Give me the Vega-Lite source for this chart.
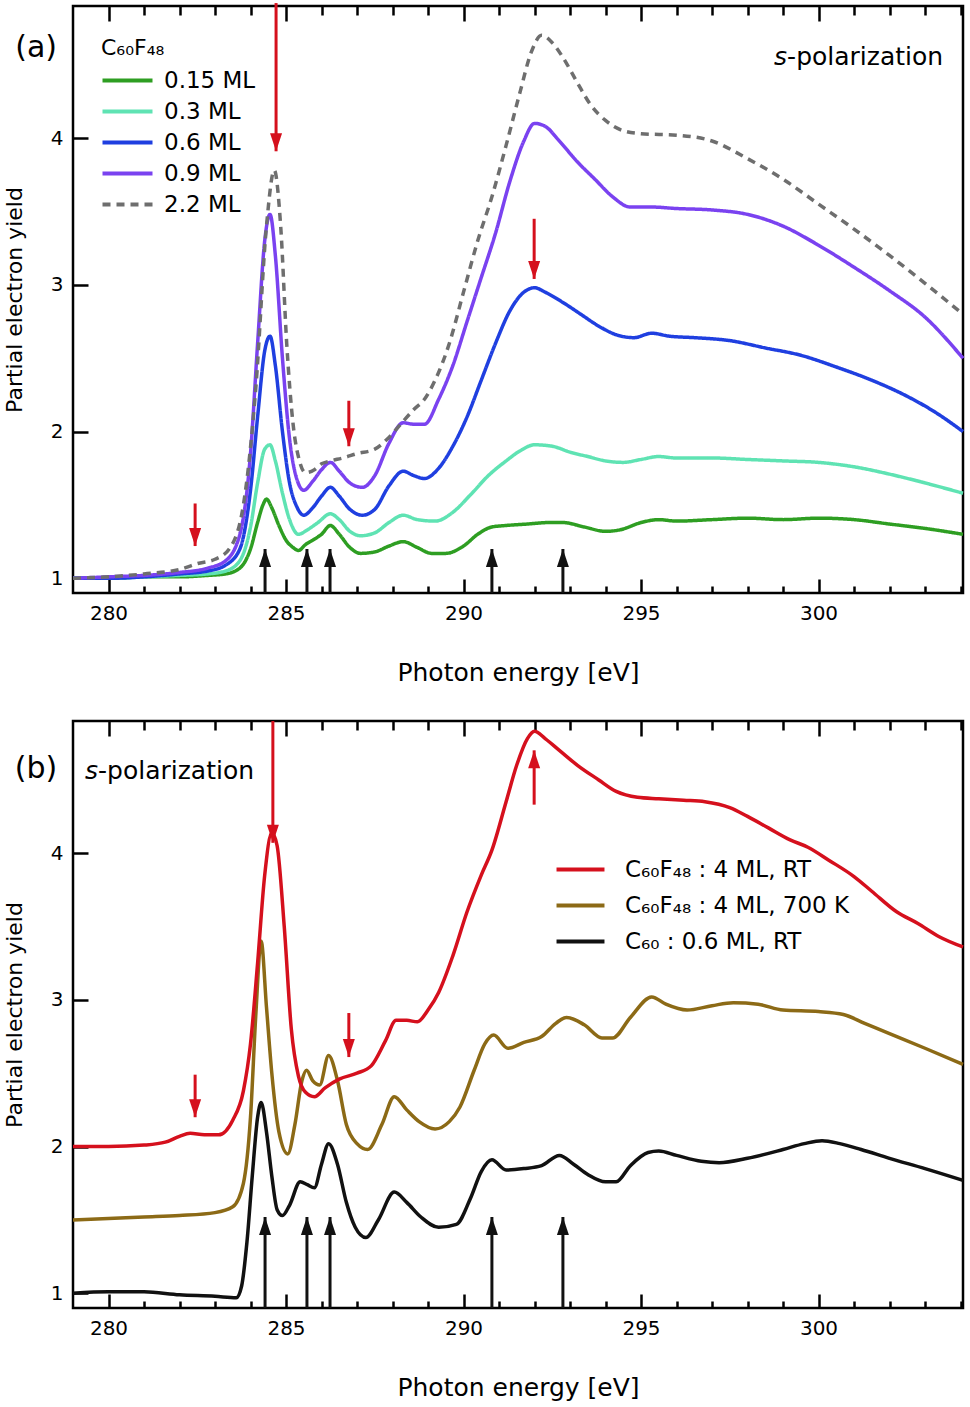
{
"$schema": "https://vega.github.io/schema/vega-lite/v6.json",
"background": "white",
"padding": {"left": 2, "top": 0, "right": 3, "bottom": 2},
"spacing": 31,
"resolve": {"scale": {"color": "independent", "strokeDash": "independent", "shape": "independent"}, "legend": {"color": "independent", "strokeDash": "independent"}},
"config": {
  "view": {"stroke": "black", "strokeWidth": 2.5},
  "font": "DejaVu Sans",
  "axis": {"domain": false, "grid": false, "tickColor": "black", "tickWidth": 2.5, "labelColor": "black", "titleColor": "black", "titleFontWeight": "normal", "labelFont": "DejaVu Sans", "titleFont": "DejaVu Sans"},
  "legend": {"labelColor": "black", "titleColor": "black", "labelFont": "DejaVu Sans", "titleFont": "DejaVu Sans", "labelLimit": 500},
  "text": {"color": "black", "font": "DejaVu Sans"}
},
"datasets": {
"a": [
{"s":"0.15 ML","e":279,"y":1.0},{"s":"0.15 ML","e":280,"y":1.0},{"s":"0.15 ML","e":281,"y":1.01},{"s":"0.15 ML","e":282,"y":1.01},{"s":"0.15 ML","e":282.8,"y":1.02},{"s":"0.15 ML","e":283.3,"y":1.03},{"s":"0.15 ML","e":283.7,"y":1.07},{"s":"0.15 ML","e":284.0,"y":1.2},{"s":"0.15 ML","e":284.2,"y":1.38},{"s":"0.15 ML","e":284.35,"y":1.5},{"s":"0.15 ML","e":284.45,"y":1.54},{"s":"0.15 ML","e":284.6,"y":1.48},{"s":"0.15 ML","e":284.8,"y":1.36},{"s":"0.15 ML","e":285.0,"y":1.26},{"s":"0.15 ML","e":285.2,"y":1.21},{"s":"0.15 ML","e":285.35,"y":1.19},{"s":"0.15 ML","e":285.55,"y":1.23},{"s":"0.15 ML","e":285.75,"y":1.26},{"s":"0.15 ML","e":286.0,"y":1.3},{"s":"0.15 ML","e":286.25,"y":1.36},{"s":"0.15 ML","e":286.5,"y":1.3},{"s":"0.15 ML","e":286.8,"y":1.21},{"s":"0.15 ML","e":287.1,"y":1.17},{"s":"0.15 ML","e":287.5,"y":1.18},{"s":"0.15 ML","e":287.9,"y":1.22},{"s":"0.15 ML","e":288.3,"y":1.25},{"s":"0.15 ML","e":288.7,"y":1.21},{"s":"0.15 ML","e":289.1,"y":1.17},{"s":"0.15 ML","e":289.5,"y":1.17},{"s":"0.15 ML","e":290.0,"y":1.22},{"s":"0.15 ML","e":290.4,"y":1.3},{"s":"0.15 ML","e":290.8,"y":1.35},{"s":"0.15 ML","e":291.2,"y":1.36},{"s":"0.15 ML","e":291.8,"y":1.37},{"s":"0.15 ML","e":292.4,"y":1.38},{"s":"0.15 ML","e":292.8,"y":1.38},{"s":"0.15 ML","e":293.4,"y":1.35},{"s":"0.15 ML","e":294.0,"y":1.32},{"s":"0.15 ML","e":294.4,"y":1.33},{"s":"0.15 ML","e":295.0,"y":1.38},{"s":"0.15 ML","e":295.5,"y":1.4},{"s":"0.15 ML","e":296.0,"y":1.39},{"s":"0.15 ML","e":297,"y":1.4},{"s":"0.15 ML","e":298,"y":1.41},{"s":"0.15 ML","e":299,"y":1.4},{"s":"0.15 ML","e":300,"y":1.41},{"s":"0.15 ML","e":301,"y":1.4},{"s":"0.15 ML","e":302,"y":1.37},{"s":"0.15 ML","e":303,"y":1.34},{"s":"0.15 ML","e":304.07,"y":1.3},
{"s":"0.3 ML","e":279,"y":1.0},{"s":"0.3 ML","e":280,"y":1.0},{"s":"0.3 ML","e":281,"y":1.01},{"s":"0.3 ML","e":282,"y":1.02},{"s":"0.3 ML","e":282.8,"y":1.03},{"s":"0.3 ML","e":283.3,"y":1.05},{"s":"0.3 ML","e":283.7,"y":1.12},{"s":"0.3 ML","e":284.0,"y":1.35},{"s":"0.3 ML","e":284.2,"y":1.65},{"s":"0.3 ML","e":284.4,"y":1.88},{"s":"0.3 ML","e":284.55,"y":1.91},{"s":"0.3 ML","e":284.7,"y":1.8},{"s":"0.3 ML","e":284.9,"y":1.58},{"s":"0.3 ML","e":285.1,"y":1.4},{"s":"0.3 ML","e":285.35,"y":1.3},{"s":"0.3 ML","e":285.6,"y":1.33},{"s":"0.3 ML","e":285.9,"y":1.38},{"s":"0.3 ML","e":286.25,"y":1.44},{"s":"0.3 ML","e":286.5,"y":1.4},{"s":"0.3 ML","e":286.8,"y":1.32},{"s":"0.3 ML","e":287.1,"y":1.29},{"s":"0.3 ML","e":287.5,"y":1.31},{"s":"0.3 ML","e":287.9,"y":1.38},{"s":"0.3 ML","e":288.3,"y":1.43},{"s":"0.3 ML","e":288.7,"y":1.4},{"s":"0.3 ML","e":289.2,"y":1.39},{"s":"0.3 ML","e":289.7,"y":1.45},{"s":"0.3 ML","e":290.2,"y":1.57},{"s":"0.3 ML","e":290.7,"y":1.7},{"s":"0.3 ML","e":291.2,"y":1.8},{"s":"0.3 ML","e":291.6,"y":1.87},{"s":"0.3 ML","e":292.0,"y":1.91},{"s":"0.3 ML","e":292.5,"y":1.9},{"s":"0.3 ML","e":293.0,"y":1.86},{"s":"0.3 ML","e":293.5,"y":1.83},{"s":"0.3 ML","e":294.0,"y":1.8},{"s":"0.3 ML","e":294.5,"y":1.79},{"s":"0.3 ML","e":295.0,"y":1.81},{"s":"0.3 ML","e":295.5,"y":1.83},{"s":"0.3 ML","e":296,"y":1.82},{"s":"0.3 ML","e":297,"y":1.82},{"s":"0.3 ML","e":298,"y":1.81},{"s":"0.3 ML","e":299,"y":1.8},{"s":"0.3 ML","e":300,"y":1.79},{"s":"0.3 ML","e":301,"y":1.76},{"s":"0.3 ML","e":302,"y":1.71},{"s":"0.3 ML","e":303,"y":1.65},{"s":"0.3 ML","e":304.07,"y":1.58},
{"s":"0.6 ML","e":279,"y":1.0},{"s":"0.6 ML","e":280,"y":1.0},{"s":"0.6 ML","e":281,"y":1.01},{"s":"0.6 ML","e":282,"y":1.03},{"s":"0.6 ML","e":282.8,"y":1.05},{"s":"0.6 ML","e":283.3,"y":1.09},{"s":"0.6 ML","e":283.7,"y":1.2},{"s":"0.6 ML","e":284.0,"y":1.6},{"s":"0.6 ML","e":284.2,"y":2.1},{"s":"0.6 ML","e":284.4,"y":2.55},{"s":"0.6 ML","e":284.55,"y":2.65},{"s":"0.6 ML","e":284.7,"y":2.45},{"s":"0.6 ML","e":284.9,"y":2.0},{"s":"0.6 ML","e":285.1,"y":1.65},{"s":"0.6 ML","e":285.3,"y":1.49},{"s":"0.6 ML","e":285.5,"y":1.43},{"s":"0.6 ML","e":285.75,"y":1.48},{"s":"0.6 ML","e":286.0,"y":1.56},{"s":"0.6 ML","e":286.25,"y":1.62},{"s":"0.6 ML","e":286.5,"y":1.56},{"s":"0.6 ML","e":286.8,"y":1.47},{"s":"0.6 ML","e":287.15,"y":1.43},{"s":"0.6 ML","e":287.5,"y":1.47},{"s":"0.6 ML","e":287.9,"y":1.63},{"s":"0.6 ML","e":288.3,"y":1.73},{"s":"0.6 ML","e":288.6,"y":1.7},{"s":"0.6 ML","e":288.9,"y":1.68},{"s":"0.6 ML","e":289.3,"y":1.75},{"s":"0.6 ML","e":289.7,"y":1.9},{"s":"0.6 ML","e":290.1,"y":2.1},{"s":"0.6 ML","e":290.5,"y":2.35},{"s":"0.6 ML","e":290.9,"y":2.6},{"s":"0.6 ML","e":291.3,"y":2.82},{"s":"0.6 ML","e":291.7,"y":2.95},{"s":"0.6 ML","e":292.0,"y":2.98},{"s":"0.6 ML","e":292.3,"y":2.95},{"s":"0.6 ML","e":292.8,"y":2.88},{"s":"0.6 ML","e":293.3,"y":2.8},{"s":"0.6 ML","e":293.8,"y":2.72},{"s":"0.6 ML","e":294.3,"y":2.66},{"s":"0.6 ML","e":294.8,"y":2.64},{"s":"0.6 ML","e":295.3,"y":2.67},{"s":"0.6 ML","e":295.8,"y":2.65},{"s":"0.6 ML","e":296.5,"y":2.64},{"s":"0.6 ML","e":297.5,"y":2.62},{"s":"0.6 ML","e":298.5,"y":2.57},{"s":"0.6 ML","e":299.5,"y":2.52},{"s":"0.6 ML","e":300.5,"y":2.44},{"s":"0.6 ML","e":301.5,"y":2.35},{"s":"0.6 ML","e":302.5,"y":2.24},{"s":"0.6 ML","e":303.3,"y":2.13},{"s":"0.6 ML","e":304.07,"y":2.0},
{"s":"0.9 ML","e":279,"y":1.0},{"s":"0.9 ML","e":280,"y":1.01},{"s":"0.9 ML","e":281,"y":1.02},{"s":"0.9 ML","e":282,"y":1.04},{"s":"0.9 ML","e":282.8,"y":1.07},{"s":"0.9 ML","e":283.3,"y":1.12},{"s":"0.9 ML","e":283.7,"y":1.3},{"s":"0.9 ML","e":284.0,"y":1.85},{"s":"0.9 ML","e":284.2,"y":2.6},{"s":"0.9 ML","e":284.4,"y":3.3},{"s":"0.9 ML","e":284.55,"y":3.48},{"s":"0.9 ML","e":284.7,"y":3.2},{"s":"0.9 ML","e":284.9,"y":2.5},{"s":"0.9 ML","e":285.1,"y":1.95},{"s":"0.9 ML","e":285.3,"y":1.68},{"s":"0.9 ML","e":285.5,"y":1.6},{"s":"0.9 ML","e":285.75,"y":1.66},{"s":"0.9 ML","e":286.0,"y":1.74},{"s":"0.9 ML","e":286.25,"y":1.79},{"s":"0.9 ML","e":286.5,"y":1.73},{"s":"0.9 ML","e":286.8,"y":1.65},{"s":"0.9 ML","e":287.15,"y":1.62},{"s":"0.9 ML","e":287.5,"y":1.7},{"s":"0.9 ML","e":287.9,"y":1.92},{"s":"0.9 ML","e":288.3,"y":2.06},{"s":"0.9 ML","e":288.6,"y":2.05},{"s":"0.9 ML","e":288.9,"y":2.05},{"s":"0.9 ML","e":289.3,"y":2.22},{"s":"0.9 ML","e":289.7,"y":2.45},{"s":"0.9 ML","e":290.1,"y":2.75},{"s":"0.9 ML","e":290.5,"y":3.05},{"s":"0.9 ML","e":290.9,"y":3.35},{"s":"0.9 ML","e":291.3,"y":3.7},{"s":"0.9 ML","e":291.7,"y":3.98},{"s":"0.9 ML","e":292.0,"y":4.1},{"s":"0.9 ML","e":292.3,"y":4.08},{"s":"0.9 ML","e":292.7,"y":3.98},{"s":"0.9 ML","e":293.2,"y":3.84},{"s":"0.9 ML","e":293.7,"y":3.72},{"s":"0.9 ML","e":294.2,"y":3.6},{"s":"0.9 ML","e":294.7,"y":3.53},{"s":"0.9 ML","e":295.3,"y":3.53},{"s":"0.9 ML","e":296,"y":3.52},{"s":"0.9 ML","e":297,"y":3.51},{"s":"0.9 ML","e":298,"y":3.48},{"s":"0.9 ML","e":299,"y":3.4},{"s":"0.9 ML","e":300,"y":3.27},{"s":"0.9 ML","e":301,"y":3.12},{"s":"0.9 ML","e":302,"y":2.96},{"s":"0.9 ML","e":303,"y":2.78},{"s":"0.9 ML","e":304.07,"y":2.5},
{"s":"2.2 ML","e":279,"y":1.0},{"s":"2.2 ML","e":280,"y":1.01},{"s":"2.2 ML","e":281,"y":1.03},{"s":"2.2 ML","e":282,"y":1.06},{"s":"2.2 ML","e":282.5,"y":1.1},{"s":"2.2 ML","e":283.0,"y":1.13},{"s":"2.2 ML","e":283.4,"y":1.2},{"s":"2.2 ML","e":283.8,"y":1.5},{"s":"2.2 ML","e":284.15,"y":2.3},{"s":"2.2 ML","e":284.45,"y":3.4},{"s":"2.2 ML","e":284.67,"y":3.78},{"s":"2.2 ML","e":284.85,"y":3.4},{"s":"2.2 ML","e":285.02,"y":2.6},{"s":"2.2 ML","e":285.2,"y":2.05},{"s":"2.2 ML","e":285.38,"y":1.8},{"s":"2.2 ML","e":285.55,"y":1.72},{"s":"2.2 ML","e":285.8,"y":1.74},{"s":"2.2 ML","e":286.0,"y":1.78},{"s":"2.2 ML","e":286.25,"y":1.8},{"s":"2.2 ML","e":286.6,"y":1.82},{"s":"2.2 ML","e":287.0,"y":1.85},{"s":"2.2 ML","e":287.5,"y":1.88},{"s":"2.2 ML","e":287.9,"y":1.96},{"s":"2.2 ML","e":288.3,"y":2.07},{"s":"2.2 ML","e":288.6,"y":2.15},{"s":"2.2 ML","e":288.9,"y":2.22},{"s":"2.2 ML","e":289.2,"y":2.35},{"s":"2.2 ML","e":289.6,"y":2.6},{"s":"2.2 ML","e":290.0,"y":2.95},{"s":"2.2 ML","e":290.4,"y":3.3},{"s":"2.2 ML","e":290.8,"y":3.6},{"s":"2.2 ML","e":291.2,"y":3.95},{"s":"2.2 ML","e":291.6,"y":4.32},{"s":"2.2 ML","e":291.9,"y":4.58},{"s":"2.2 ML","e":292.2,"y":4.7},{"s":"2.2 ML","e":292.5,"y":4.65},{"s":"2.2 ML","e":292.8,"y":4.55},{"s":"2.2 ML","e":293.2,"y":4.38},{"s":"2.2 ML","e":293.6,"y":4.22},{"s":"2.2 ML","e":294.0,"y":4.12},{"s":"2.2 ML","e":294.5,"y":4.05},{"s":"2.2 ML","e":295.0,"y":4.03},{"s":"2.2 ML","e":296,"y":4.02},{"s":"2.2 ML","e":297,"y":3.98},{"s":"2.2 ML","e":298,"y":3.86},{"s":"2.2 ML","e":299,"y":3.72},{"s":"2.2 ML","e":300,"y":3.55},{"s":"2.2 ML","e":301,"y":3.38},{"s":"2.2 ML","e":302,"y":3.2},{"s":"2.2 ML","e":303,"y":3.01},{"s":"2.2 ML","e":304.07,"y":2.8}
],
"b": [
{"s":"C₆₀ : 0.6 ML, RT","e":279,"y":1.0},{"s":"C₆₀ : 0.6 ML, RT","e":280,"y":1.01},{"s":"C₆₀ : 0.6 ML, RT","e":281,"y":1.01},{"s":"C₆₀ : 0.6 ML, RT","e":282,"y":0.99},{"s":"C₆₀ : 0.6 ML, RT","e":283,"y":0.98},{"s":"C₆₀ : 0.6 ML, RT","e":283.6,"y":0.97},{"s":"C₆₀ : 0.6 ML, RT","e":283.75,"y":1.05},{"s":"C₆₀ : 0.6 ML, RT","e":283.9,"y":1.35},{"s":"C₆₀ : 0.6 ML, RT","e":284.05,"y":1.8},{"s":"C₆₀ : 0.6 ML, RT","e":284.2,"y":2.2},{"s":"C₆₀ : 0.6 ML, RT","e":284.3,"y":2.3},{"s":"C₆₀ : 0.6 ML, RT","e":284.45,"y":2.1},{"s":"C₆₀ : 0.6 ML, RT","e":284.6,"y":1.8},{"s":"C₆₀ : 0.6 ML, RT","e":284.75,"y":1.57},{"s":"C₆₀ : 0.6 ML, RT","e":284.9,"y":1.53},{"s":"C₆₀ : 0.6 ML, RT","e":285.1,"y":1.6},{"s":"C₆₀ : 0.6 ML, RT","e":285.4,"y":1.76},{"s":"C₆₀ : 0.6 ML, RT","e":285.6,"y":1.74},{"s":"C₆₀ : 0.6 ML, RT","e":285.8,"y":1.72},{"s":"C₆₀ : 0.6 ML, RT","e":286.0,"y":1.88},{"s":"C₆₀ : 0.6 ML, RT","e":286.2,"y":2.02},{"s":"C₆₀ : 0.6 ML, RT","e":286.45,"y":1.88},{"s":"C₆₀ : 0.6 ML, RT","e":286.7,"y":1.62},{"s":"C₆₀ : 0.6 ML, RT","e":286.95,"y":1.45},{"s":"C₆₀ : 0.6 ML, RT","e":287.25,"y":1.38},{"s":"C₆₀ : 0.6 ML, RT","e":287.6,"y":1.5},{"s":"C₆₀ : 0.6 ML, RT","e":288.05,"y":1.69},{"s":"C₆₀ : 0.6 ML, RT","e":288.4,"y":1.62},{"s":"C₆₀ : 0.6 ML, RT","e":288.8,"y":1.52},{"s":"C₆₀ : 0.6 ML, RT","e":289.3,"y":1.45},{"s":"C₆₀ : 0.6 ML, RT","e":289.8,"y":1.47},{"s":"C₆₀ : 0.6 ML, RT","e":290.2,"y":1.65},{"s":"C₆₀ : 0.6 ML, RT","e":290.5,"y":1.83},{"s":"C₆₀ : 0.6 ML, RT","e":290.8,"y":1.91},{"s":"C₆₀ : 0.6 ML, RT","e":291.2,"y":1.84},{"s":"C₆₀ : 0.6 ML, RT","e":291.7,"y":1.85},{"s":"C₆₀ : 0.6 ML, RT","e":292.2,"y":1.87},{"s":"C₆₀ : 0.6 ML, RT","e":292.7,"y":1.94},{"s":"C₆₀ : 0.6 ML, RT","e":293.1,"y":1.88},{"s":"C₆₀ : 0.6 ML, RT","e":293.5,"y":1.81},{"s":"C₆₀ : 0.6 ML, RT","e":294.0,"y":1.76},{"s":"C₆₀ : 0.6 ML, RT","e":294.3,"y":1.76},{"s":"C₆₀ : 0.6 ML, RT","e":294.7,"y":1.87},{"s":"C₆₀ : 0.6 ML, RT","e":295.2,"y":1.96},{"s":"C₆₀ : 0.6 ML, RT","e":295.5,"y":1.97},{"s":"C₆₀ : 0.6 ML, RT","e":296,"y":1.94},{"s":"C₆₀ : 0.6 ML, RT","e":296.7,"y":1.9},{"s":"C₆₀ : 0.6 ML, RT","e":297.2,"y":1.89},{"s":"C₆₀ : 0.6 ML, RT","e":298,"y":1.92},{"s":"C₆₀ : 0.6 ML, RT","e":299,"y":1.98},{"s":"C₆₀ : 0.6 ML, RT","e":299.6,"y":2.02},{"s":"C₆₀ : 0.6 ML, RT","e":300.1,"y":2.04},{"s":"C₆₀ : 0.6 ML, RT","e":300.6,"y":2.02},{"s":"C₆₀ : 0.6 ML, RT","e":301.2,"y":1.98},{"s":"C₆₀ : 0.6 ML, RT","e":302,"y":1.92},{"s":"C₆₀ : 0.6 ML, RT","e":303,"y":1.85},{"s":"C₆₀ : 0.6 ML, RT","e":304.07,"y":1.77},
{"s":"C₆₀F₄₈ : 4 ML, 700 K","e":279,"y":1.5},{"s":"C₆₀F₄₈ : 4 ML, 700 K","e":280,"y":1.51},{"s":"C₆₀F₄₈ : 4 ML, 700 K","e":281,"y":1.52},{"s":"C₆₀F₄₈ : 4 ML, 700 K","e":282,"y":1.53},{"s":"C₆₀F₄₈ : 4 ML, 700 K","e":283,"y":1.55},{"s":"C₆₀F₄₈ : 4 ML, 700 K","e":283.5,"y":1.59},{"s":"C₆₀F₄₈ : 4 ML, 700 K","e":283.8,"y":1.75},{"s":"C₆₀F₄₈ : 4 ML, 700 K","e":284.0,"y":2.2},{"s":"C₆₀F₄₈ : 4 ML, 700 K","e":284.15,"y":2.9},{"s":"C₆₀F₄₈ : 4 ML, 700 K","e":284.3,"y":3.4},{"s":"C₆₀F₄₈ : 4 ML, 700 K","e":284.45,"y":2.95},{"s":"C₆₀F₄₈ : 4 ML, 700 K","e":284.6,"y":2.5},{"s":"C₆₀F₄₈ : 4 ML, 700 K","e":284.8,"y":2.1},{"s":"C₆₀F₄₈ : 4 ML, 700 K","e":285.05,"y":1.95},{"s":"C₆₀F₄₈ : 4 ML, 700 K","e":285.25,"y":2.15},{"s":"C₆₀F₄₈ : 4 ML, 700 K","e":285.45,"y":2.45},{"s":"C₆₀F₄₈ : 4 ML, 700 K","e":285.58,"y":2.52},{"s":"C₆₀F₄₈ : 4 ML, 700 K","e":285.75,"y":2.45},{"s":"C₆₀F₄₈ : 4 ML, 700 K","e":285.95,"y":2.42},{"s":"C₆₀F₄₈ : 4 ML, 700 K","e":286.2,"y":2.62},{"s":"C₆₀F₄₈ : 4 ML, 700 K","e":286.45,"y":2.45},{"s":"C₆₀F₄₈ : 4 ML, 700 K","e":286.7,"y":2.15},{"s":"C₆₀F₄₈ : 4 ML, 700 K","e":287.0,"y":2.02},{"s":"C₆₀F₄₈ : 4 ML, 700 K","e":287.3,"y":1.98},{"s":"C₆₀F₄₈ : 4 ML, 700 K","e":287.7,"y":2.15},{"s":"C₆₀F₄₈ : 4 ML, 700 K","e":288.05,"y":2.34},{"s":"C₆₀F₄₈ : 4 ML, 700 K","e":288.4,"y":2.25},{"s":"C₆₀F₄₈ : 4 ML, 700 K","e":288.75,"y":2.17},{"s":"C₆₀F₄₈ : 4 ML, 700 K","e":289.2,"y":2.12},{"s":"C₆₀F₄₈ : 4 ML, 700 K","e":289.6,"y":2.17},{"s":"C₆₀F₄₈ : 4 ML, 700 K","e":289.9,"y":2.27},{"s":"C₆₀F₄₈ : 4 ML, 700 K","e":290.3,"y":2.52},{"s":"C₆₀F₄₈ : 4 ML, 700 K","e":290.6,"y":2.7},{"s":"C₆₀F₄₈ : 4 ML, 700 K","e":290.85,"y":2.76},{"s":"C₆₀F₄₈ : 4 ML, 700 K","e":291.25,"y":2.67},{"s":"C₆₀F₄₈ : 4 ML, 700 K","e":291.7,"y":2.71},{"s":"C₆₀F₄₈ : 4 ML, 700 K","e":292.2,"y":2.75},{"s":"C₆₀F₄₈ : 4 ML, 700 K","e":292.6,"y":2.84},{"s":"C₆₀F₄₈ : 4 ML, 700 K","e":292.9,"y":2.88},{"s":"C₆₀F₄₈ : 4 ML, 700 K","e":293.4,"y":2.83},{"s":"C₆₀F₄₈ : 4 ML, 700 K","e":293.9,"y":2.74},{"s":"C₆₀F₄₈ : 4 ML, 700 K","e":294.2,"y":2.74},{"s":"C₆₀F₄₈ : 4 ML, 700 K","e":294.7,"y":2.88},{"s":"C₆₀F₄₈ : 4 ML, 700 K","e":295.3,"y":3.02},{"s":"C₆₀F₄₈ : 4 ML, 700 K","e":295.7,"y":2.97},{"s":"C₆₀F₄₈ : 4 ML, 700 K","e":296.3,"y":2.93},{"s":"C₆₀F₄₈ : 4 ML, 700 K","e":297.0,"y":2.96},{"s":"C₆₀F₄₈ : 4 ML, 700 K","e":297.6,"y":2.98},{"s":"C₆₀F₄₈ : 4 ML, 700 K","e":298.3,"y":2.97},{"s":"C₆₀F₄₈ : 4 ML, 700 K","e":299,"y":2.93},{"s":"C₆₀F₄₈ : 4 ML, 700 K","e":300,"y":2.92},{"s":"C₆₀F₄₈ : 4 ML, 700 K","e":300.7,"y":2.9},{"s":"C₆₀F₄₈ : 4 ML, 700 K","e":301.3,"y":2.84},{"s":"C₆₀F₄₈ : 4 ML, 700 K","e":302,"y":2.77},{"s":"C₆₀F₄₈ : 4 ML, 700 K","e":303,"y":2.67},{"s":"C₆₀F₄₈ : 4 ML, 700 K","e":304.07,"y":2.56},
{"s":"C₆₀F₄₈ : 4 ML, RT","e":279,"y":2.0},{"s":"C₆₀F₄₈ : 4 ML, RT","e":280,"y":2.0},{"s":"C₆₀F₄₈ : 4 ML, RT","e":281,"y":2.01},{"s":"C₆₀F₄₈ : 4 ML, RT","e":281.6,"y":2.03},{"s":"C₆₀F₄₈ : 4 ML, RT","e":282.0,"y":2.07},{"s":"C₆₀F₄₈ : 4 ML, RT","e":282.3,"y":2.09},{"s":"C₆₀F₄₈ : 4 ML, RT","e":282.7,"y":2.08},{"s":"C₆₀F₄₈ : 4 ML, RT","e":283.1,"y":2.08},{"s":"C₆₀F₄₈ : 4 ML, RT","e":283.5,"y":2.18},{"s":"C₆₀F₄₈ : 4 ML, RT","e":283.8,"y":2.38},{"s":"C₆₀F₄₈ : 4 ML, RT","e":284.0,"y":2.7},{"s":"C₆₀F₄₈ : 4 ML, RT","e":284.2,"y":3.25},{"s":"C₆₀F₄₈ : 4 ML, RT","e":284.4,"y":3.85},{"s":"C₆₀F₄₈ : 4 ML, RT","e":284.6,"y":4.14},{"s":"C₆₀F₄₈ : 4 ML, RT","e":284.75,"y":4.05},{"s":"C₆₀F₄₈ : 4 ML, RT","e":284.95,"y":3.5},{"s":"C₆₀F₄₈ : 4 ML, RT","e":285.15,"y":2.8},{"s":"C₆₀F₄₈ : 4 ML, RT","e":285.35,"y":2.48},{"s":"C₆₀F₄₈ : 4 ML, RT","e":285.55,"y":2.37},{"s":"C₆₀F₄₈ : 4 ML, RT","e":285.8,"y":2.34},{"s":"C₆₀F₄₈ : 4 ML, RT","e":286.1,"y":2.4},{"s":"C₆₀F₄₈ : 4 ML, RT","e":286.5,"y":2.46},{"s":"C₆₀F₄₈ : 4 ML, RT","e":287.0,"y":2.5},{"s":"C₆₀F₄₈ : 4 ML, RT","e":287.4,"y":2.55},{"s":"C₆₀F₄₈ : 4 ML, RT","e":287.8,"y":2.72},{"s":"C₆₀F₄₈ : 4 ML, RT","e":288.1,"y":2.86},{"s":"C₆₀F₄₈ : 4 ML, RT","e":288.4,"y":2.86},{"s":"C₆₀F₄₈ : 4 ML, RT","e":288.7,"y":2.85},{"s":"C₆₀F₄₈ : 4 ML, RT","e":289.0,"y":2.93},{"s":"C₆₀F₄₈ : 4 ML, RT","e":289.3,"y":3.05},{"s":"C₆₀F₄₈ : 4 ML, RT","e":289.7,"y":3.3},{"s":"C₆₀F₄₈ : 4 ML, RT","e":290.1,"y":3.6},{"s":"C₆₀F₄₈ : 4 ML, RT","e":290.5,"y":3.85},{"s":"C₆₀F₄₈ : 4 ML, RT","e":290.8,"y":4.02},{"s":"C₆₀F₄₈ : 4 ML, RT","e":291.2,"y":4.35},{"s":"C₆₀F₄₈ : 4 ML, RT","e":291.5,"y":4.6},{"s":"C₆₀F₄₈ : 4 ML, RT","e":291.8,"y":4.78},{"s":"C₆₀F₄₈ : 4 ML, RT","e":292.0,"y":4.83},{"s":"C₆₀F₄₈ : 4 ML, RT","e":292.3,"y":4.78},{"s":"C₆₀F₄₈ : 4 ML, RT","e":292.7,"y":4.7},{"s":"C₆₀F₄₈ : 4 ML, RT","e":293.2,"y":4.6},{"s":"C₆₀F₄₈ : 4 ML, RT","e":293.8,"y":4.5},{"s":"C₆₀F₄₈ : 4 ML, RT","e":294.3,"y":4.42},{"s":"C₆₀F₄₈ : 4 ML, RT","e":294.9,"y":4.38},{"s":"C₆₀F₄₈ : 4 ML, RT","e":295.5,"y":4.37},{"s":"C₆₀F₄₈ : 4 ML, RT","e":296.2,"y":4.36},{"s":"C₆₀F₄₈ : 4 ML, RT","e":296.8,"y":4.35},{"s":"C₆₀F₄₈ : 4 ML, RT","e":297.5,"y":4.31},{"s":"C₆₀F₄₈ : 4 ML, RT","e":298.0,"y":4.25},{"s":"C₆₀F₄₈ : 4 ML, RT","e":298.6,"y":4.17},{"s":"C₆₀F₄₈ : 4 ML, RT","e":299.2,"y":4.09},{"s":"C₆₀F₄₈ : 4 ML, RT","e":299.7,"y":4.04},{"s":"C₆₀F₄₈ : 4 ML, RT","e":300.3,"y":3.95},{"s":"C₆₀F₄₈ : 4 ML, RT","e":301.0,"y":3.84},{"s":"C₆₀F₄₈ : 4 ML, RT","e":301.5,"y":3.74},{"s":"C₆₀F₄₈ : 4 ML, RT","e":302.2,"y":3.6},{"s":"C₆₀F₄₈ : 4 ML, RT","e":302.8,"y":3.52},{"s":"C₆₀F₄₈ : 4 ML, RT","e":303.4,"y":3.43},{"s":"C₆₀F₄₈ : 4 ML, RT","e":304.07,"y":3.36}
],
"arr_a": [
{"g":"change","dir":"down","e":284.72,"y0":4.92,"y":3.91},
{"g":"change","dir":"down","e":282.44,"y0":1.51,"y":1.22},
{"g":"change","dir":"down","e":286.77,"y0":2.21,"y":1.9},
{"g":"change","dir":"down","e":291.99,"y0":3.45,"y":3.04},
{"g":"feature","dir":"up","e":284.41,"y0":0.9,"y":1.2},
{"g":"feature","dir":"up","e":285.59,"y0":0.9,"y":1.2},
{"g":"feature","dir":"up","e":286.24,"y0":0.9,"y":1.2},
{"g":"feature","dir":"up","e":290.8,"y0":0.9,"y":1.2},
{"g":"feature","dir":"up","e":292.8,"y0":0.9,"y":1.2}
],
"arr_b": [
{"g":"change","dir":"down","e":284.63,"y0":4.9,"y":4.07},
{"g":"change","dir":"down","e":282.44,"y0":2.49,"y":2.2},
{"g":"change","dir":"down","e":286.77,"y0":2.91,"y":2.61},
{"g":"change","dir":"up","e":291.99,"y0":4.33,"y":4.7},
{"g":"feature","dir":"up","e":284.41,"y0":0.9,"y":1.52},
{"g":"feature","dir":"up","e":285.59,"y0":0.9,"y":1.52},
{"g":"feature","dir":"up","e":286.24,"y0":0.9,"y":1.52},
{"g":"feature","dir":"up","e":290.8,"y0":0.9,"y":1.52},
{"g":"feature","dir":"up","e":292.8,"y0":0.9,"y":1.52}
],
"lab_a": [{"t":"(a)","e":277.96,"y":4.615}],
"lab_b": [{"t":"(b)","e":277.96,"y":4.57}],
"pol_a": [{"s":"s","t":"-polarization","e":303.51,"y":4.55}],
"pol_b": [{"s":"s","t":"-polarization","e":279.34,"y":4.56}]
},
"vconcat": [
{
 "width": 890, "height": 587,
 "resolve": {"axis": {"x": "independent"}},
 "encoding": {
  "y": {"field": "y", "type": "quantitative", "scale": {"domain": [0.9, 4.9], "nice": false, "zero": false},
    "axis": {"orient": "left", "values": [1,2,3,4], "tickSize": -15, "labelPadding": 25, "labelFontSize": 20, "title": "Partial electron yield", "titleFontSize": 22, "titlePadding": 24}}
 },
 "layer": [
  {
   "data": {"name": "a"},
   "mark": {"type": "line", "strokeWidth": 3.5, "interpolate": "monotone"},
   "encoding": {
    "x": {"field": "e", "type": "quantitative", "scale": {"domain": [279, 304.07], "nice": false, "zero": false},
      "axis": {"orient": "bottom", "values": [280,281,282,283,284,285,286,287,288,289,290,291,292,293,294,295,296,297,298,299,300,301,302,303,304], "labelExpr": "datum.value % 5 === 0 ? datum.label : ''", "labelFontSize": 20, "tickSize": {"condition": {"test": "datum.value % 5 === 0", "value": -14}, "value": -7}, "labelPadding": 24, "labelFlush": false, "labelOverlap": false, "title": "Photon energy [eV]", "titleFontSize": 25, "titlePadding": 30}},
    "color": {"field": "s", "type": "nominal", "scale": {"domain": ["0.15 ML","0.3 ML","0.6 ML","0.9 ML","2.2 ML"], "range": ["#2e9e22","#5fe3b3","#1f3fe0","#7a42f0","#6e6e6e"]},
      "legend": {"orient": "none", "legendX": 28, "legendY": 32, "title": "C₆₀F₄₈", "titleFontSize": 22, "titleFontWeight": "normal", "titlePadding": 9, "labelFontSize": 23, "symbolType": "M-5,0H5", "symbolSize": 100, "symbolOffset": 15, "symbolStrokeWidth": 4, "rowPadding": 7, "labelOffset": 25}},
    "strokeDash": {"field": "s", "type": "nominal", "scale": {"domain": ["0.15 ML","0.3 ML","0.6 ML","0.9 ML","2.2 ML"], "range": [[1,0],[1,0],[1,0],[1,0],[8,6]]},
      "legend": {"orient": "none", "legendX": 28, "legendY": 32, "title": "C₆₀F₄₈", "titleFontSize": 22, "titleFontWeight": "normal", "titlePadding": 9, "labelFontSize": 23, "symbolType": "M-5,0H5", "symbolSize": 100, "symbolOffset": 15, "symbolStrokeWidth": 4, "rowPadding": 7, "labelOffset": 25}}
   }
  },
  {
   "data": {"name": "arr_a"},
   "mark": {"type": "rule", "strokeWidth": 3},
   "encoding": {
    "x": {"field": "e", "type": "quantitative", "scale": {"domain": [279, 304.07], "nice": false, "zero": false},
      "axis": {"orient": "top", "values": [280,281,282,283,284,285,286,287,288,289,290,291,292,293,294,295,296,297,298,299,300,301,302,303,304], "labels": false, "tickSize": {"condition": {"test": "datum.value % 5 === 0", "value": -15}, "value": -9}, "title": null}},
    "y2": {"field": "y0"},
    "stroke": {"field": "g", "type": "nominal", "scale": {"domain": ["change","feature"], "range": ["#d5101d","#111111"]}, "legend": null}
   }
  },
  {
   "data": {"name": "arr_a"},
   "mark": {"type": "point", "filled": true, "size": 144, "opacity": 1, "strokeWidth": 0},
   "encoding": {
    "x": {"field": "e", "type": "quantitative", "axis": null},
    "shape": {"field": "dir", "type": "nominal", "scale": {"domain": ["down","up"], "range": ["M-1,-3L1,-3L0,0Z","M-1,3L1,3L0,0Z"]}, "legend": null},
    "fill": {"field": "g", "type": "nominal", "scale": {"domain": ["change","feature"], "range": ["#d5101d","#111111"]}, "legend": null}
   }
  },
  {
   "data": {"name": "lab_a"},
   "mark": {"type": "text", "fontSize": 30, "align": "center", "baseline": "middle"},
   "encoding": {
    "x": {"field": "e", "type": "quantitative", "axis": null},
    "text": {"field": "t"}
   }
  },
  {
   "data": {"name": "pol_a"},
   "mark": {"type": "text", "fontSize": 25, "align": "right", "baseline": "middle"},
   "encoding": {
    "x": {"field": "e", "type": "quantitative", "axis": null},
    "text": {"field": "t"}
   }
  },
  {
   "data": {"name": "pol_a"},
   "mark": {"type": "text", "fontSize": 25, "fontStyle": "italic", "align": "right", "baseline": "middle", "dx": -156},
   "encoding": {
    "x": {"field": "e", "type": "quantitative", "axis": null},
    "text": {"field": "s"}
   }
  }
 ]
},
{
 "width": 890, "height": 587,
 "resolve": {"axis": {"x": "independent"}},
 "encoding": {
  "y": {"field": "y", "type": "quantitative", "scale": {"domain": [0.9, 4.9], "nice": false, "zero": false},
    "axis": {"orient": "left", "values": [1,2,3,4], "tickSize": -15, "labelPadding": 25, "labelFontSize": 20, "title": "Partial electron yield", "titleFontSize": 22, "titlePadding": 24}}
 },
 "layer": [
  {
   "data": {"name": "b"},
   "mark": {"type": "line", "strokeWidth": 3.5, "interpolate": "monotone"},
   "encoding": {
    "x": {"field": "e", "type": "quantitative", "scale": {"domain": [279, 304.07], "nice": false, "zero": false},
      "axis": {"orient": "bottom", "values": [280,281,282,283,284,285,286,287,288,289,290,291,292,293,294,295,296,297,298,299,300,301,302,303,304], "labelExpr": "datum.value % 5 === 0 ? datum.label : ''", "labelFontSize": 20, "tickSize": {"condition": {"test": "datum.value % 5 === 0", "value": -14}, "value": -7}, "labelPadding": 24, "labelFlush": false, "labelOverlap": false, "title": "Photon energy [eV]", "titleFontSize": 25, "titlePadding": 30}},
    "color": {"field": "s", "type": "nominal", "scale": {"domain": ["C₆₀F₄₈ : 4 ML, RT","C₆₀F₄₈ : 4 ML, 700 K","C₆₀ : 0.6 ML, RT"], "range": ["#d5101d","#8c6a16","#111111"]},
      "legend": {"orient": "none", "legendX": 482, "legendY": 137, "title": null, "labelFontSize": 23, "symbolType": "M-5,0H5", "symbolSize": 92, "symbolOffset": 14, "symbolStrokeWidth": 4, "rowPadding": 12, "labelOffset": 33}}
   }
  },
  {
   "data": {"name": "arr_b"},
   "mark": {"type": "rule", "strokeWidth": 3},
   "encoding": {
    "x": {"field": "e", "type": "quantitative", "scale": {"domain": [279, 304.07], "nice": false, "zero": false},
      "axis": {"orient": "top", "values": [280,281,282,283,284,285,286,287,288,289,290,291,292,293,294,295,296,297,298,299,300,301,302,303,304], "labels": false, "tickSize": {"condition": {"test": "datum.value % 5 === 0", "value": -15}, "value": -9}, "title": null}},
    "y2": {"field": "y0"},
    "stroke": {"field": "g", "type": "nominal", "scale": {"domain": ["change","feature"], "range": ["#d5101d","#111111"]}, "legend": null}
   }
  },
  {
   "data": {"name": "arr_b"},
   "mark": {"type": "point", "filled": true, "size": 144, "opacity": 1, "strokeWidth": 0},
   "encoding": {
    "x": {"field": "e", "type": "quantitative", "axis": null},
    "shape": {"field": "dir", "type": "nominal", "scale": {"domain": ["down","up"], "range": ["M-1,-3L1,-3L0,0Z","M-1,3L1,3L0,0Z"]}, "legend": null},
    "fill": {"field": "g", "type": "nominal", "scale": {"domain": ["change","feature"], "range": ["#d5101d","#111111"]}, "legend": null}
   }
  },
  {
   "data": {"name": "lab_b"},
   "mark": {"type": "text", "fontSize": 30, "align": "center", "baseline": "middle"},
   "encoding": {
    "x": {"field": "e", "type": "quantitative", "axis": null},
    "text": {"field": "t"}
   }
  },
  {
   "data": {"name": "pol_b"},
   "mark": {"type": "text", "fontSize": 25, "align": "left", "baseline": "middle", "dx": 13},
   "encoding": {
    "x": {"field": "e", "type": "quantitative", "axis": null},
    "text": {"field": "t"}
   }
  },
  {
   "data": {"name": "pol_b"},
   "mark": {"type": "text", "fontSize": 25, "fontStyle": "italic", "align": "left", "baseline": "middle"},
   "encoding": {
    "x": {"field": "e", "type": "quantitative", "axis": null},
    "text": {"field": "s"}
   }
  }
 ]
}
]
}
